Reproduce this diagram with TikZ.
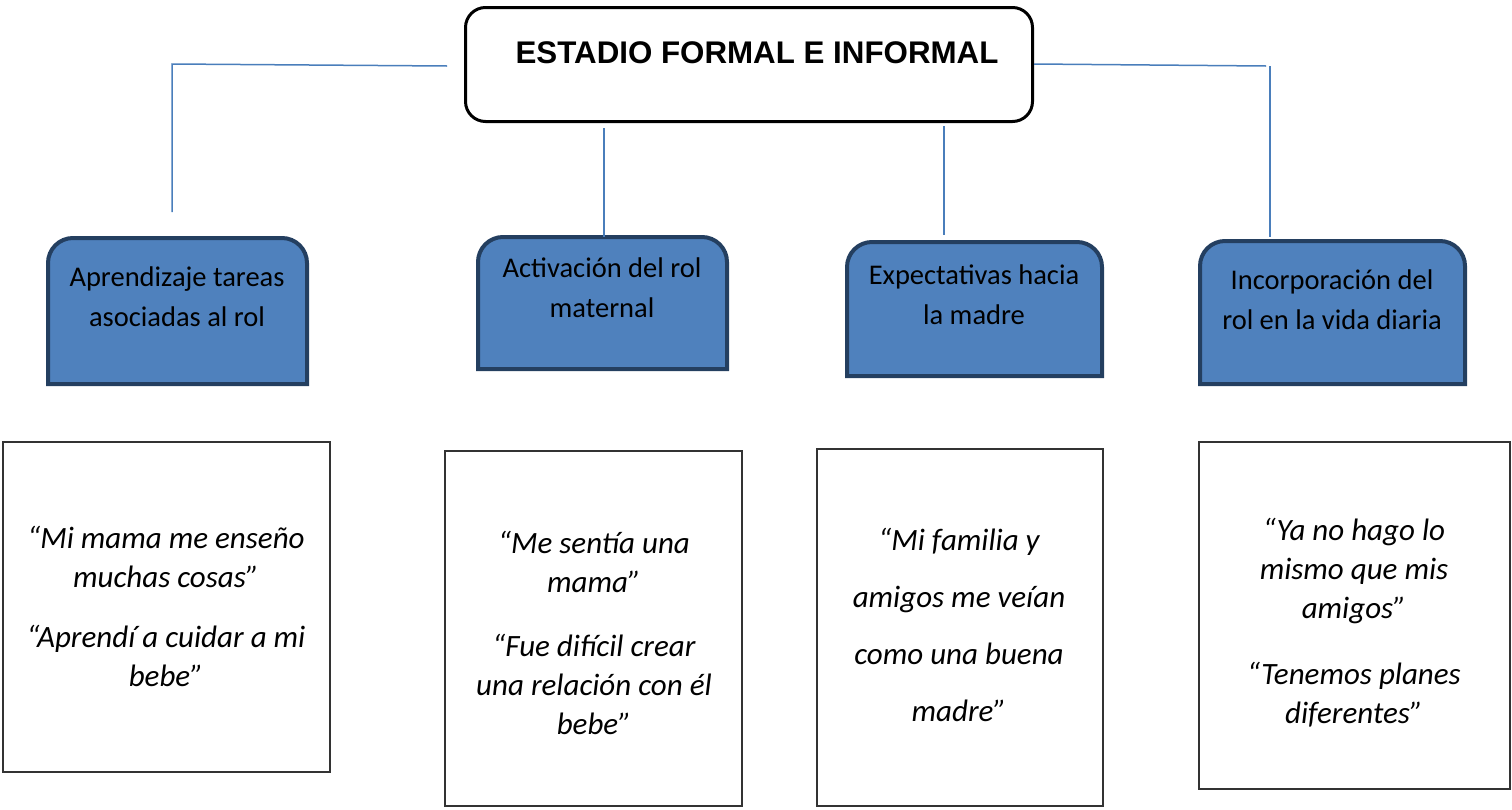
\documentclass[tikz,border=0pt]{standalone}
\usepackage{fontspec}
\setmainfont{Carlito}
\newfontfamily\titlefont{Liberation Sans}
\definecolor{boxblue}{HTML}{4F81BD}
\definecolor{boxedge}{HTML}{243F60}
\definecolor{linkblue}{HTML}{4A7EBB}
\begin{document}
\begin{tikzpicture}[x=1pt,y=-1pt,
  conn/.style={draw=linkblue,line width=1.5pt},
  bluebox/.style={fill=boxblue,draw=boxedge,line width=4pt},
  holder/.style={inner sep=0,outer sep=0},
  quotebox/.style={draw=black!80,line width=1.2pt,inner sep=0},
  head/.style={font=\fontsize{28.5}{40}\selectfont,align=center,inner sep=0},
  quote/.style={font=\fontsize{31}{39}\selectfont\itshape,align=center,inner sep=0},
  titlebox/.style={draw=black,line width=3pt,rounded corners=20pt,inner sep=0}]
\useasboundingbox (0,0) rectangle (1512,809);

% title
\node[titlebox,minimum width=567pt,minimum height=114pt] (title) at (749,64.5) {};
\node[font=\titlefont\bfseries\fontsize{31.3}{36}\selectfont,inner sep=0] (ttl) at (757,53) {ESTADIO FORMAL E INFORMAL};

% blue category boxes
\node[holder,minimum width=259pt,minimum height=146pt] (b1) at (177.5,311) {};
\node[holder,minimum width=249pt,minimum height=132pt] (b2) at (602.5,303) {};
\node[holder,minimum width=255pt,minimum height=134pt] (b3) at (974.5,309) {};
\node[holder,minimum width=265pt,minimum height=143pt] (b4) at (1332.5,312.5) {};
\foreach \b in {b1,b2,b3,b4}{
  \path[bluebox] (\b.south west) [rounded corners=25pt] -- (\b.north west) -- (\b.north east) [sharp corners] -- (\b.south east) -- cycle;
}
\node[head] (t1) at (177,297) {Aprendizaje tareas\\asociadas al rol};
\node[head] (t2) at (602,287.5) {Activación del rol\\maternal};
\node[head] (t3) at (974,294.5) {Expectativas hacia\\la madre};
\node[head] (t4) at (1332,299.5) {Incorporación del\\rol en la vida diaria};

% quote boxes
\node[quotebox,minimum width=327pt,minimum height=330pt] (q1) at (166.5,607) {};
\node[quotebox,minimum width=297pt,minimum height=355pt] (q2) at (593.5,628.5) {};
\node[quotebox,minimum width=286pt,minimum height=357pt] (q3) at (960,627.5) {};
\node[quotebox,minimum width=311pt,minimum height=347pt] (q4) at (1354.5,615.5) {};

\node[quote] (qt1) at (166,606) {“Mi mama me enseño\\muchas cosas”\\[21pt]“Aprendí a cuidar a mi\\bebe”};
\node[quote] (qt2) at (594,633) {“Me sentía una\\mama”\\[25pt]“Fue difícil crear\\una relación con él\\bebe”};
\node[quote,font=\fontsize{31}{57}\selectfont\itshape] (qt3) at (959,625) {“Mi familia y\\amigos me veían\\como una buena\\madre”};
\node[quote] (qt4) at (1354,623) {“Ya no hago lo\\mismo que mis\\amigos”\\[27pt]“Tenemos planes\\diferentes”};

% connectors
\coordinate (l1) at (447,66);
\coordinate (l2) at (172,64);
\coordinate (l3) at (172,212);
\draw[conn] (l1) -- (l2) -- (l3);
\coordinate (r1) at (1034,64);
\coordinate (r2) at (1266,66);
\coordinate (r3) at (1270,66);
\coordinate (r4) at (1270,237);
\draw[conn] (r1) -- (r2);
\draw[conn] (r3) -- (r4);
\coordinate (m1) at (604,128);
\coordinate (m2) at (604,237);
\draw[conn] (m1) -- (m2);
\coordinate (n1) at (944,126);
\coordinate (n2) at (944,235);
\draw[conn] (n1) -- (n2);
\end{tikzpicture}
\end{document}
